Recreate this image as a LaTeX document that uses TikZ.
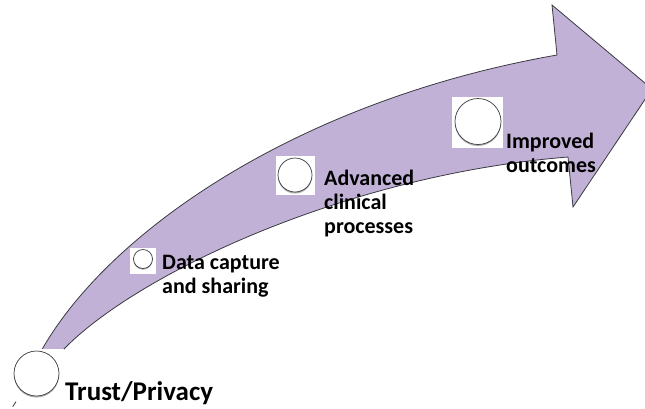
\documentclass[tikz,border=0pt]{standalone}
\usepackage{fontspec}
\setmainfont{Carlito}
\definecolor{bandfill}{RGB}{194,177,214}
\definecolor{edgegray}{RGB}{58,58,66}
\definecolor{shadowgray}{RGB}{175,175,175}
\begin{document}
\begin{tikzpicture}[x=1pt,y=-1pt,
  edge/.style={draw=edgegray, line width=0.8pt, line join=miter},
  pinbox/.style={rectangle, fill=white, minimum size=#1, inner sep=0pt},
  ring/.style={circle, draw=edgegray, fill=white, line width=0.7pt, minimum size=#1, inner sep=0pt},
  ringshadow/.style={circle, fill=shadowgray, minimum size=#1, inner sep=0pt},
  label/.style={anchor=base west, inner sep=0pt, align=left, font=\bfseries\fontsize{22}{24}\selectfont},
  biglabel/.style={anchor=base west, inner sep=0pt, font=\bfseries\fontsize{27}{30}\selectfont}]
\useasboundingbox (0,0) rectangle (645,408);

% curved band with its arrow head
\fill[bandfill] (41.7,350) .. controls (110,230) and (300,100) .. (557,55)
  -- (552,5) -- (652,89) -- (573,207) -- (568,157)
  .. controls (345,175) and (135,275) .. (63,350) -- cycle;
\draw[edge] (41.7,350) .. controls (110,230) and (300,100) .. (557,55)
  -- (552,5) -- (652,89) -- (573,207) -- (568,157)
  .. controls (345,175) and (135,275) .. (63,350);

% tail stub below the first marker
\coordinate (stubA) at (12.7,406.7);
\coordinate (stubB) at (16,401.7);
\draw[edge] (stubA) -- (stubB);

% milestone markers
\node[pinbox=52] (trustbox) at (38,375) {};
\node[ringshadow=45] (trustsh) at (36.5,375) {};
\node[ring=45] (trust) at (36.5,373.5) {};

\node[pinbox=26] (databox) at (143,260.5) {};
\node[ringshadow=19] (datash) at (143,260.2) {};
\node[ring=19] (data) at (143,259) {};

\node[pinbox=39] (advbox) at (295.5,175.5) {};
\node[ringshadow=34] (advsh) at (295,176.5) {};
\node[ring=34] (adv) at (295,175) {};

\node[pinbox=51] (impbox) at (477.5,122.5) {};
\node[ringshadow=46] (impsh) at (478,123) {};
\node[ring=46] (imp) at (478,121.5) {};

% milestone texts
\node[biglabel] (trusttext) at (65,400) {Trust/Privacy};
\node[label] (datatext) at (162,293) {Data capture\\and sharing};
\node[label] (advtext) at (324,233) {Advanced\\clinical\\processes};
\node[label] (imptext) at (506,172) {Improved\\outcomes};
\end{tikzpicture}
\end{document}
